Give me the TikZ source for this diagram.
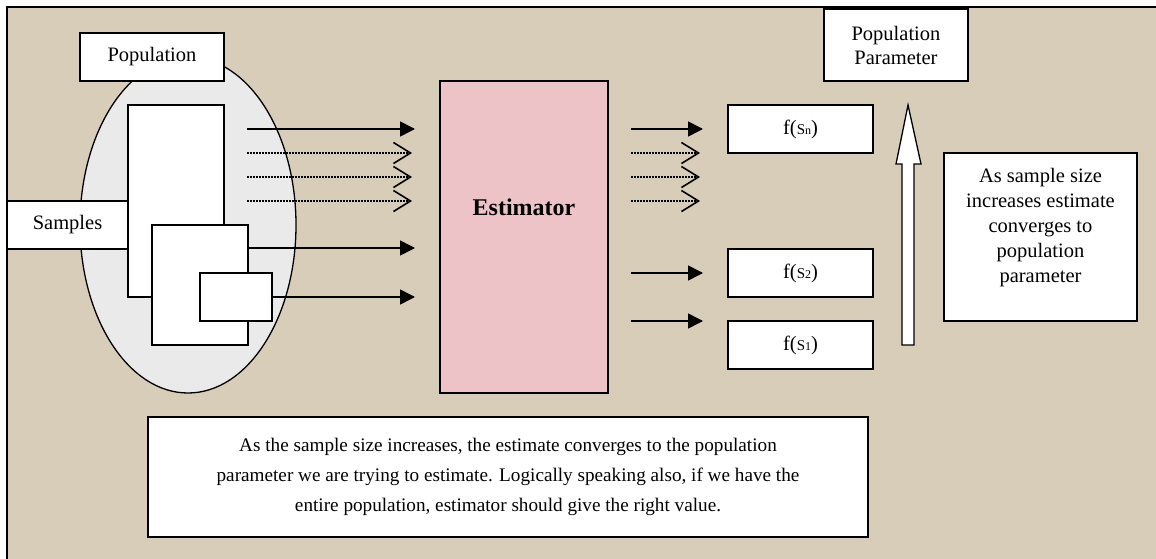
\documentclass[tikz,border=0pt]{standalone}
\usepackage{fontspec}
\setmainfont{Liberation Serif}
\usetikzlibrary{arrows.meta,shapes.geometric}
\definecolor{canvas}{HTML}{D8CDB8}
\definecolor{popgray}{HTML}{EAEAEA}
\definecolor{estpink}{HTML}{EDC3C7}
\newcommand{\fsub}[2]{f({\fontsize{15}{15}\selectfont #1}{\fontsize{12}{12}\selectfont #2})}
\begin{document}
\begin{tikzpicture}[x=1pt,y=-1pt,
  font=\fontsize{20.5}{25}\selectfont,
  box/.style={draw, fill=white, line width=1.3pt, inner sep=0pt, outer sep=0pt, align=center},
  plain/.style={inner sep=0pt, align=center},
  solidarrow/.style={line width=1.6pt, -{Triangle[length=15pt,width=15pt]}},
  dotarrow/.style={line width=1.5pt, dash pattern=on 1.5pt off 1.5pt, -{Straight Barb[length=17pt,width=21pt,line width=1.6pt]}},
  frameline/.style={line width=2.5pt}]
\useasboundingbox (0,0) rectangle (1156,559);
% page and canvas
\fill[white] (0,0) rectangle (1156,559);
\fill[canvas] (7,7) rectangle (1156,559);
\draw[frameline] (7,559) -- (7,7) -- (1156,7);

% population ellipse with its samples
\node[draw, ellipse, fill=popgray, line width=1.3pt, minimum width=216, minimum height=336, inner sep=0pt] (popu) at (188,225) {};
\node[box, minimum width=144, minimum height=48] (poplabel) at (152,57) {Population};
\node[box, minimum width=121, minimum height=48] (samples) at (67.5,225) {Samples};
\node[box, minimum width=96, minimum height=192] (sampA) at (176,201) {};
\node[box, minimum width=96, minimum height=120] (sampB) at (200,285) {};
\node[box, minimum width=72, minimum height=48] (sampC) at (236,297) {};

% estimator
\node[draw, fill=estpink, line width=1.3pt, minimum width=168, minimum height=312, inner sep=0pt] (est) at (524,237) {};
\node[plain, font=\fontsize{24}{28}\selectfont\bfseries] (esttext) at (524,207) {Estimator};

% inputs to the estimator
\coordinate (inA) at (247,129);
\coordinate (inA') at (415,129);
\coordinate (d1) at (247,153);
\coordinate (d1') at (412,153);
\coordinate (d2) at (247,177);
\coordinate (d2') at (412,177);
\coordinate (d3) at (247,201);
\coordinate (d3') at (412,201);
\coordinate (inB') at (415,248);
\coordinate (inC') at (415,297);
\draw[solidarrow] (inA) -- (inA');
\draw[dotarrow] (d1) -- (d1');
\draw[dotarrow] (d2) -- (d2');
\draw[dotarrow] (d3) -- (d3');
\draw[solidarrow] (sampB.east |- inB') -- (inB');
\draw[solidarrow] (sampC.east |- inC') -- (inC');

% estimates
\node[box, minimum width=145, minimum height=48] (fsn) at (800.5,129) {\fsub{S}{n}};
\node[box, minimum width=145, minimum height=48] (fs2) at (800.5,273) {\fsub{S}{2}};
\node[box, minimum width=145, minimum height=48] (fs1) at (800.5,345) {\fsub{S}{1}};

% outputs of the estimator
\coordinate (oA) at (631,129);
\coordinate (e1) at (631,153);
\coordinate (e1') at (700,153);
\coordinate (e2) at (631,177);
\coordinate (e2') at (700,177);
\coordinate (e3) at (631,201);
\coordinate (e3') at (700,201);
\coordinate (oB) at (631,273);
\coordinate (oC) at (631,321);
\draw[solidarrow] (oA) -- (oA -| 703,0);
\draw[dotarrow] (e1) -- (e1');
\draw[dotarrow] (e2) -- (e2');
\draw[dotarrow] (e3) -- (e3');
\draw[solidarrow] (oB) -- (oB -| 703,0);
\draw[solidarrow] (oC) -- (oC -| 703,0);

% population parameter and convergence arrow
\node[box, minimum width=144, minimum height=72] (param) at (896,45) {Population\\[-1pt]Parameter};
\draw[fill=white, line width=1.3pt] (902,345) -- (914,345) -- (914,164) -- (921,164) -- (908,105) -- (896,164) -- (902,164) -- cycle;

% explanatory notes
\node[box, minimum width=193, minimum height=168] (note) at (1040.5,237) {};
\node[plain] (notetext) at (1040.5,228) {As sample size\\increases estimate\\converges to\\population\\parameter};
\node[box, minimum width=720, minimum height=120, font=\fontsize{19.2}{30}\selectfont] (summary) at (508,477)
  {As the sample size increases, the estimate converges to the population\\
   parameter we are trying to estimate. Logically speaking also, if we have the\\
   entire population, estimator should give the right value.};
\end{tikzpicture}
\end{document}
